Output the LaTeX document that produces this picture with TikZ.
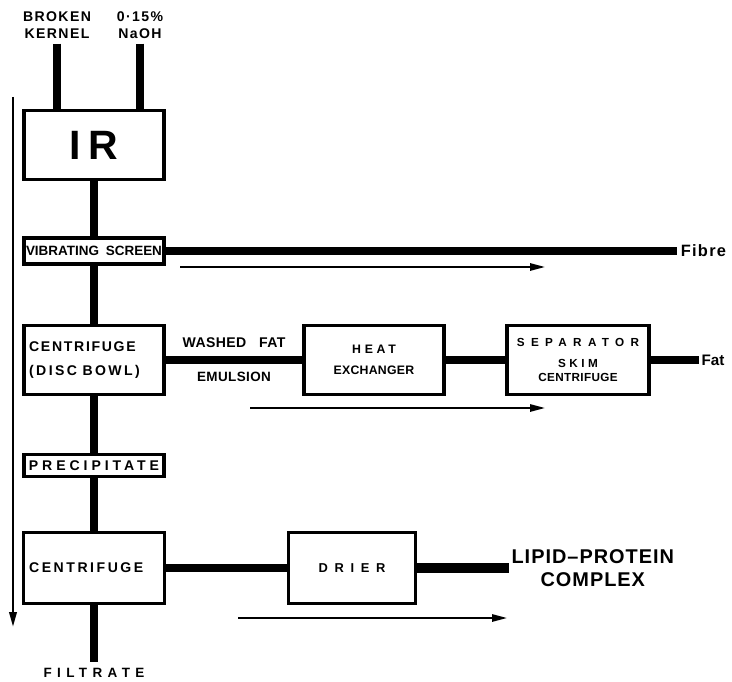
\documentclass[tikz,border=0pt]{standalone}
\usepackage{fontspec}
\setmainfont{Liberation Sans}
\usetikzlibrary{arrows.meta,positioning}
\newcommand{\fs}[2]{\fontsize{#1}{#2}\selectfont}
\newcommand{\spc}[1]{\addfontfeatures{LetterSpace=#1}}

\begin{document}
\begin{tikzpicture}[
 x=0.03cm,y=-0.03cm,
 unit/.style={draw,line width=3pt,minimum width=4.2cm,minimum height=2.07cm,inner sep=0pt,align=center,font=\bfseries\fs{11}{17}},
 strip/.style={draw,line width=2.6pt,minimum width=4.2cm,inner sep=0pt,font=\bfseries\fs{11}{13}},
 pipe/.style={line width=6.8pt},
 flow/.style={line width=1.6pt,-{Triangle[length=4.5mm,width=2.2mm]}},
 lbl/.style={font=\bfseries\fs{12}{15}\spc{10},align=center,inner xsep=1pt,inner ysep=4pt}
]
\useasboundingbox (0,0) rectangle (732,682);
% feeds
\node[lbl] (kernel) at (57,25) {BROKEN\\KERNEL};
\node[lbl] (naoh) at (140,25) {0·15\%\\NaOH};
\node[unit,font=\bfseries\fs{35}{40}\spc{20}] (ir) at (94,145) {IR};
\draw[pipe] (kernel) -- (kernel |- ir.north);
\draw[pipe] (naoh) -- (naoh |- ir.north);
% screening
\node[strip,minimum height=0.78cm,font=\bfseries\fs{11.5}{13}] (screen) at (94,251) {VIBRATING\hspace{0.5em}SCREEN};
\node[font=\bfseries\fs{14}{16}\spc{8},anchor=west,inner sep=3pt] (fibre) at (677,251) {Fibre};
\draw[pipe] (ir) -- (screen);
\draw[pipe] (screen.east) -- (fibre.west);
% fat line
\node[unit,align=left,text width=3.89cm,inner xsep=4pt,font=\bfseries\fs{12}{20}\spc{12}] (bowl) at (94,360) {CENTRIFUGE\\{\spc{17}(DISC\hspace{0.4em}BOWL)}};
\node[unit,font=\bfseries\fs{10.5}{18}\spc{2}] (heat) at (374,360) {{\spc{30}HEAT}\\EXCHANGER};
\node[unit,minimum width=4.26cm,font=\bfseries\fs{10}{12}\spc{3}] (sep) at (578,360) {{\spc{54}SEPARATOR}\\[6pt]{\spc{30}SKIM}\\CENTRIFUGE};
\node[font=\bfseries\fs{13}{15},anchor=west,inner sep=2pt] (fat) at (699,360) {Fat};
\draw[pipe] (screen) -- (bowl);
\draw[pipe] (bowl) -- node[above=4pt,font=\bfseries\fs{12}{13}\spc{3}] (washed) {WASHED\hspace{0.9em}FAT}
 node[below=4pt,font=\bfseries\fs{11.5}{13}\spc{3}] (emul) {EMULSION} (heat);
\draw[pipe] (heat) -- (sep);
\draw[pipe] (sep) -- (fat.west);
% protein line
\node[strip,minimum height=0.66cm,font=\bfseries\fs{12}{13}\spc{28}] (precip) at (94,465.5) {PRECIPITATE};
\node[unit,minimum height=2.13cm,align=left,text width=3.89cm,inner xsep=5pt,font=\bfseries\fs{12}{13}\spc{18}] (cent) at (94,568) {CENTRIFUGE};
\node[unit,minimum width=3.81cm,minimum height=2.13cm,font=\bfseries\fs{11}{12}\spc{52}] (drier) at (352,568) {DRIER};
\node[font=\bfseries\fs{17}{20}\spc{5},anchor=west,align=center,inner sep=2pt] (lipid) at (509,568) {LIPID--PROTEIN\\COMPLEX};
\node[font=\bfseries\fs{11.5}{13}\spc{40},inner ysep=5pt] (filtrate) at (94,673) {FILTRATE};
\draw[pipe] (bowl) -- (precip);
\draw[pipe] (precip) -- (cent);
\draw[pipe] (cent) -- (drier);
\draw[pipe,line width=8.5pt] (drier) -- (lipid.west);
\draw[pipe] (cent) -- (filtrate);
% direction arrows
\coordinate (d1s) at (180,267);
\coordinate (d1e) at (545,267);
\coordinate (d2s) at (250,408);
\coordinate (d2e) at (545,408);
\coordinate (d3s) at (238,618);
\coordinate (d3e) at (507,618);
\coordinate (down1) at (13,97);
\coordinate (down2) at (13,627);
\draw[flow] (d1s) -- (d1e);
\draw[flow] (d2s) -- (d2e);
\draw[flow] (d3s) -- (d3e);
\draw[flow,line width=2.2pt] (down1) -- (down2);
\end{tikzpicture}
\end{document}
